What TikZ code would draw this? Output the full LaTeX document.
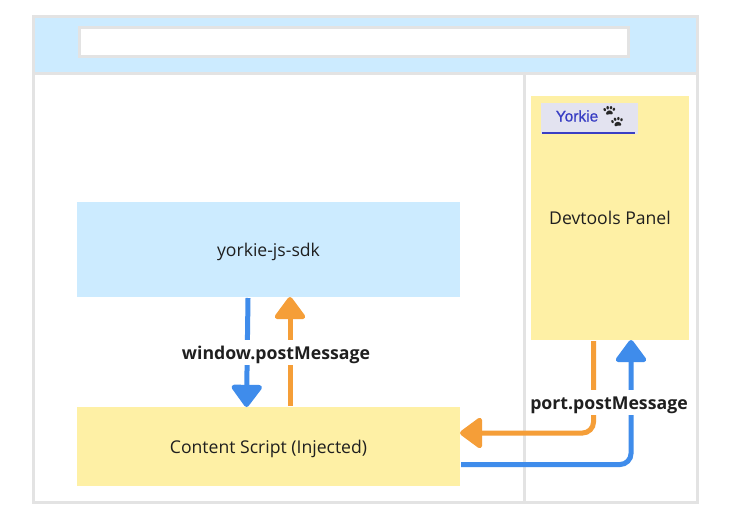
\documentclass[tikz,border=0pt]{standalone}
\usepackage{fontspec}
\setmainfont{Open Sans}
\newfontfamily\tabfont[FakeBold=0.8]{Liberation Sans}
\newfontfamily\emojifont{Noto Emoji}
\usetikzlibrary{arrows.meta}
\definecolor{skyfill}{HTML}{CCEBFF}
\definecolor{sandfill}{HTML}{FEF0A5}
\definecolor{framegray}{HTML}{E3E3E3}
\definecolor{flowblue}{HTML}{3F8CEB}
\definecolor{floworange}{HTML}{F59E38}
\definecolor{tabfill}{HTML}{E3E3F0}
\definecolor{tabblue}{HTML}{3A3FC4}
\definecolor{inkdark}{HTML}{1F1F1F}
\tikzset{
  region/.style={anchor=north west,inner sep=0pt,outer sep=0pt},
  regiontext/.style={inner sep=0pt,text=inkdark,font=\fontsize{17.6}{20}\selectfont},
  framebox/.style={draw=framegray,line width=3pt,fill=white},
  flowline/.style={line width=5pt,rounded corners=11pt,-{Triangle[length=24pt,width=34pt,round]}},
  flowlabel/.style={fill=white,inner sep=0pt,text height=19.5pt,text depth=5.5pt,text=inkdark,font=\fontsize{17.7}{20}\selectfont\bfseries},
}
\begin{document}
\begin{tikzpicture}[x=1pt,y=-1pt]
\useasboundingbox (0,0) rectangle (733,519);
\fill[white] (0,0) rectangle (733,519);
% browser frame
\fill[skyfill] (33,17) rectangle (697,73);
\draw[framegray,line width=3pt] (33,17) rectangle (697,502);
\draw[framegray,line width=3pt] (33,73) -- (697,73);
\draw[framegray,line width=3pt] (524.5,73) -- (524.5,502);
\node[framebox,anchor=north west,minimum width=549pt,minimum height=29pt,inner sep=0pt,outer sep=0pt] (addr) at (79,28) {};
% regions
\node[region,fill=skyfill,minimum width=383pt,minimum height=95pt] (sdk) at (77,202) {};
\node[regiontext,anchor=base] (sdktext) at (268.5,256) {yorkie-js-sdk};
\node[region,fill=sandfill,minimum width=383pt,minimum height=79pt] (content) at (77,407) {};
\node[regiontext,anchor=base] (contenttext) at (268.5,453) {Content Script (Injected)};
\node[region,fill=sandfill,minimum width=158pt,minimum height=244pt] (panel) at (531,96) {};
\node[regiontext,anchor=base] (paneltext) at (610,224) {Devtools Panel};
% yorkie tab
\node[region,fill=tabfill,minimum width=97pt,minimum height=31pt] (tab) at (541,103) {};
\draw[tabblue,line width=2pt] ([xshift=1pt,yshift=1pt]tab.south west) -- ([xshift=-3pt,yshift=1pt]tab.south east);
\node[text=tabblue,inner sep=0pt,font=\tabfont\fontsize{15.5}{16}\selectfont] (tabname) at (577,116) {Yorkie};
\node[text=black!85,inner sep=0pt,rotate=-10,font=\emojifont\fontsize{22}{23}\selectfont] (paws) at (613,116.5) {^^^^^^01f43e};
% connectors
\draw[flowline,flowblue] ([xshift=171pt,yshift=-1pt]sdk.south west) -- ([xshift=169.5pt]content.north west);
\draw[flowline,floworange] ([xshift=213pt,yshift=1pt]content.north west) -- ([xshift=213pt]sdk.south west);
\draw[flowline,floworange] ([xshift=62.5pt,yshift=-1pt]panel.south west) |- ([yshift=13.5pt]content.east);
\draw[flowline,flowblue] ([xshift=1pt,yshift=-18pt]content.east) -| ([xshift=100pt]panel.south west);
% labels
\node[flowlabel] (winmsg) at (276,352.5) {window.postMessage};
\node[flowlabel] (portmsg) at (609,402.5) {port.postMessage};
\end{tikzpicture}
\end{document}
